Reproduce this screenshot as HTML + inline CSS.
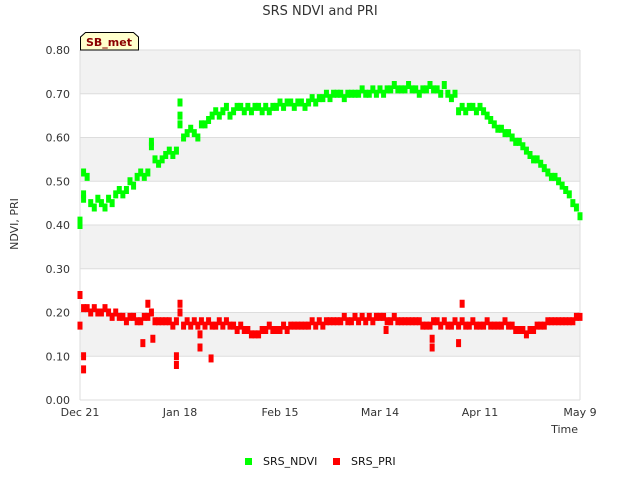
<!DOCTYPE html>
<html><head><meta charset="utf-8"><style>
body{margin:0;background:#fff;width:640px;height:480px;overflow:hidden}
text{font-family:"DejaVu Sans","Liberation Sans",sans-serif}
</style></head><body>
<svg id="chart" width="640" height="480">
<text x="320" y="15" text-anchor="middle" font-size="13" fill="#333">SRS NDVI and PRI</text>
<g id="bands"></g><g id="grid"></g>
<line x1="80" y1="50" x2="80" y2="400" stroke="#ddd"/>
<line x1="580" y1="50" x2="580" y2="400" stroke="#ddd"/>
<g id="yticks"></g><g id="xticks"></g><g id="marks"></g>
<text transform="translate(18,224) rotate(-90)" text-anchor="middle" font-size="11" fill="#333">NDVI, PRI</text>
<text x="578" y="433" text-anchor="end" font-size="11" fill="#333">Time</text>
<g>
<path d="M80.5,50 L80.5,37 L85.5,32.5 L133.5,32.5 L138.5,37 L138.5,50 Z" fill="#ffffcc" stroke="#000"/>
<text x="109" y="46" text-anchor="middle" font-size="11" font-weight="bold" fill="#8b0000">SB_met</text>
</g>
<g><rect x="245" y="458" width="7" height="7" fill="#00ff00"/><text x="263" y="465" font-size="11" fill="#111">SRS_NDVI</text></g>
<g><rect x="333" y="458" width="7" height="7" fill="#ff0000"/><text x="351" y="465" font-size="11" fill="#111">SRS_PRI</text></g>
</svg>
<script>
const yTicks=[0,0.1,0.2,0.3,0.4,0.5,0.6,0.7,0.8];
const xTickLabels=["Dec 21","Jan 18","Feb 15","Mar 14","Apr 11","May 9"];
const xTickDays=[0,28,56,84,112,140];
const ndvi=[.41,.46,.51,.45,.44,.46,.45,.44,.46,.45,
.47,.48,.47,.48,.50,.49,.51,.52,.51,.52,
.58,.55,.54,.55,.56,.57,.56,.57,.65,.60,
.61,.62,.61,.60,.63,.63,.64,.65,.66,.65,
.66,.67,.65,.66,.67,.67,.66,.67,.66,.67,
.67,.66,.67,.66,.67,.67,.68,.67,.68,.68,
.67,.68,.68,.67,.68,.69,.68,.69,.69,.70,
.69,.70,.70,.70,.69,.70,.70,.70,.70,.71,
.70,.70,.71,.70,.71,.70,.71,.71,.72,.71,
.71,.71,.72,.71,.71,.70,.71,.71,.72,.71,
.71,.70,.72,.70,.69,.70,
.66,.67,.66,.67,.67,.66,.67,.66,.65,
.64,.63,.62,.62,.61,.61,.60,.59,.59,.58,.57,.56,.55,.55,.54,.53,.52,.51,.51,.50,.49,.48,.47,.45,.44,.42];
const ndviExtraDays=[1,1,28,28,20,0];
const ndviExtraVals=[.52,.47,.68,.63,.59,.40];
const pri=[.24,.21,.21,.20,.21,.20,.20,.21,.20,.19,
.20,.19,.19,.18,.19,.19,.18,.18,.19,.19,
.20,.18,.18,.18,.18,.18,.17,.18,.20,.17,
.18,.17,.18,.17,.18,.17,.18,.17,.17,.18,
.17,.18,.17,.17,.16,.17,.16,.16,.15,.15,
.15,.16,.16,.17,.16,.16,.16,.17,.16,.17,
.17,.17,.17,.17,.17,.18,.17,.18,.17,.18,
.18,.18,.18,.18,.19,.18,.18,.19,.18,.19,
.18,.19,.18,.19,.19,.19,.18,.18,.19,.18,
.18,.18,.18,.18,.18,.18,.17,.17,.17,.18,
.18,.17,.18,.17,.17,.18,.17,.18,.17,.17,
.18,.17,.17,.17,.18,.17,.17,.17,.17,.18,
.17,.17,.16,.16,.16,.15,.16,.16,.17,.17,
.17,.18,.18,.18,.18,.18,.18,.18,.18,.19,.19];
const priExtraDays=[1,1,0,17.6,20.4,27,27,33.6,33.6,36.7,98.6,98.6,106,107,85.7,19,28];
const priExtraVals=[.10,.07,.17,.13,.14,.08,.10,.12,.15,.095,.12,.14,.13,.22,.16,.22,.22];
const NS="http://www.w3.org/2000/svg";
const X0=80,X1=580,Y0=400,Y1=50;
const xs=d=>X0+(X1-X0)*d/140;
const ys=v=>Y0-(Y0-Y1)*v/0.8;
function mk(tag,parent,at){const e=document.createElementNS(NS,tag);for(const k in at)e.setAttribute(k,at[k]);document.getElementById(parent).appendChild(e);return e;}
for(let i=0;i<yTicks.length-1;i++){if(i%2===1){const r=mk('rect','bands',{x:X0,y:ys(yTicks[i+1]),width:X1-X0,height:ys(yTicks[i])-ys(yTicks[i+1]),fill:'#f2f2f2'});

}}
yTicks.forEach(v=>{const l=mk('line','grid',{x1:X0,x2:X1,y1:ys(v),y2:ys(v),stroke:'#ddd'});


const t=mk('text','yticks',{x:70,y:ys(v)+4,'text-anchor':'end','font-size':'11',fill:'#333'});t.textContent=v.toFixed(2);

});
xTickLabels.forEach((s,i)=>{const t=mk('text','xticks',{x:xs(xTickDays[i]),y:416,'text-anchor':'middle','font-size':'11',fill:'#333'});t.textContent=s;

});
function pt(d,v,c,name){const r=mk('rect','marks',{x:xs(d)-2.5,y:ys(v)-4,width:5,height:8,fill:c});

}
ndvi.forEach((v,i)=>pt(i,v,'#00ff00','ndvi-point'));
ndviExtraDays.forEach((d,i)=>pt(d,ndviExtraVals[i],'#00ff00','ndvi-point'));
pri.forEach((v,i)=>pt(i,v,'#ff0000','pri-point'));
priExtraDays.forEach((d,i)=>pt(d,priExtraVals[i],'#ff0000','pri-point'));
</script>
</body></html>
